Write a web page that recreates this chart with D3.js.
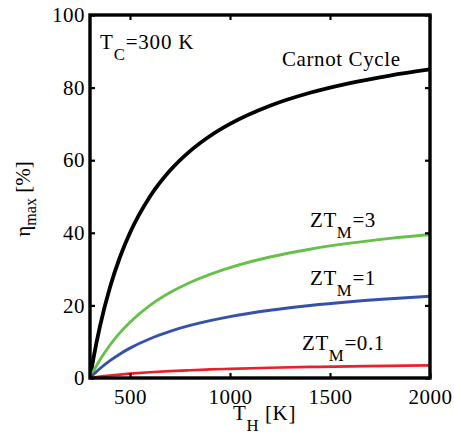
<!DOCTYPE html>
<html><head><meta charset="utf-8">
<script src="https://cdn.jsdelivr.net/npm/d3@7/dist/d3.min.js"></script>
<style>body{margin:0;background:#fff}svg{display:block}</style>
</head><body>
<svg id="c" width="454" height="434"></svg>
<script>
const TH = [300, 320, 350, 400, 450, 500, 600, 700, 800, 900, 1000, 1200, 1400, 1600, 1800, 2000];
const carnot = [0, 6.25, 14.29, 25, 33.33, 40, 50, 57.14, 62.5, 66.67, 70, 75, 78.57, 81.25, 83.33, 85];
const zt3 = [0, 2.13, 5.0, 9.09, 12.5, 15.38, 20, 23.53, 26.32, 28.57, 30.43, 33.33, 35.48, 37.14, 38.46, 39.53];
const zt1 = [0, 1.10, 2.61, 4.78, 6.64, 8.23, 10.82, 12.84, 14.47, 15.80, 16.91, 18.67, 19.98, 21.01, 21.83, 22.51];
const zt01 = [0, 0.15, 0.37, 0.68, 0.95, 1.18, 1.58, 1.89, 2.14, 2.35, 2.53, 2.82, 3.04, 3.21, 3.35, 3.46];
const xTicks = [500, 1000, 1500, 2000];
const yTicks = [0, 20, 40, 60, 80, 100];

const FONT = "'Liberation Serif', 'Times New Roman', serif";
const svg = d3.select("#c").attr("font-family", FONT);
const L = 90, R = 430, T = 15, B = 378;
const x = d3.scaleLinear().domain([300, 2000]).range([L, R]);
const y = d3.scaleLinear().domain([0, 100]).range([B, T]);

const series = [
  {v: carnot, c: "#000000", w: 3.8},
  {v: zt3, c: "#66c04a", w: 2.9},
  {v: zt1, c: "#3552a8", w: 2.9},
  {v: zt01, c: "#e8222a", w: 2.7}
];
const line = d3.line().x(d => x(d[0])).y(d => y(d[1])).curve(d3.curveMonotoneX);
const g = svg.append("g");
g.append("clipPath").attr("id","clip").append("rect").attr("x",L).attr("y",T).attr("width",R-L).attr("height",B-T);
series.forEach(s => {
  g.append("path").attr("d", line(TH.map((t,i)=>[t, s.v[i]])))
    .attr("fill","none").attr("stroke", s.c).attr("stroke-width", s.w).attr("clip-path","url(#clip)");
});

const fs = 21;
const xa = d3.axisBottom(x).tickValues(xTicks).tickSize(-5).tickPadding(11).tickFormat(d3.format("d"));
const ya = d3.axisLeft(y).tickValues(yTicks).tickSize(-5).tickPadding(5).tickFormat(d3.format("d"));
const xg = svg.append("g").attr("transform",`translate(0,${B})`).call(xa);
const yg = svg.append("g").attr("transform",`translate(${L},0)`).call(ya);
const xt = svg.append("g").attr("transform",`translate(0,${T})`).call(d3.axisTop(x).tickValues(xTicks).tickSize(-5).tickFormat(""));
const yr = svg.append("g").attr("transform",`translate(${R},0)`).call(d3.axisRight(y).tickValues(yTicks).tickSize(-5).tickFormat(""));
[xg,yg,xt,yr].forEach(a => {
  a.attr("font-family", FONT).attr("font-size", fs);
  a.select(".domain").remove();
  a.selectAll("line").attr("stroke","#000").attr("stroke-width",2.2);
  a.selectAll("text").attr("fill","#000").attr("letter-spacing", 0.5);
});
svg.append("rect").attr("x",L).attr("y",T).attr("width",R-L).attr("height",B-T)
  .attr("fill","none").attr("stroke","#000").attr("stroke-width",3.4);

function sub(px, py, main, s, rest, size, ls) {
  const t = svg.append("text").attr("x",px).attr("y",py).attr("font-size",size)
    .attr("font-family",FONT).attr("letter-spacing", ls);
  t.append("tspan").text(main);
  t.append("tspan").attr("dy", size*0.5).attr("font-size",size*0.8).text(s);
  t.append("tspan").attr("dy", -size*0.5).text(rest);
  return t;
}
sub(100, 49, "T", "C", "=300 K", 21, 0.8);
svg.append("text").attr("x",282).attr("y",66).attr("font-size",21).attr("font-family",FONT)
  .attr("letter-spacing", 0.6).text("Carnot Cycle");
sub(310, 227, "ZT", "M", "=3", 21, 0.6);
sub(310, 285, "ZT", "M", "=1", 21, 0.6);
sub(302, 350, "ZT", "M", "=0.1", 21, 0.6);
sub(233, 420, "T", "H", " [K]", 21, 0.6);

const yl = svg.append("text").attr("transform","translate(30,199) rotate(-90)").attr("text-anchor","middle")
  .attr("font-size",21).attr("font-family",FONT);
yl.append("tspan").text("η");
yl.append("tspan").attr("dy",6).attr("font-size",16).text("max");
yl.append("tspan").attr("dy",-6).text(" [%]");
</script>
</body></html>
